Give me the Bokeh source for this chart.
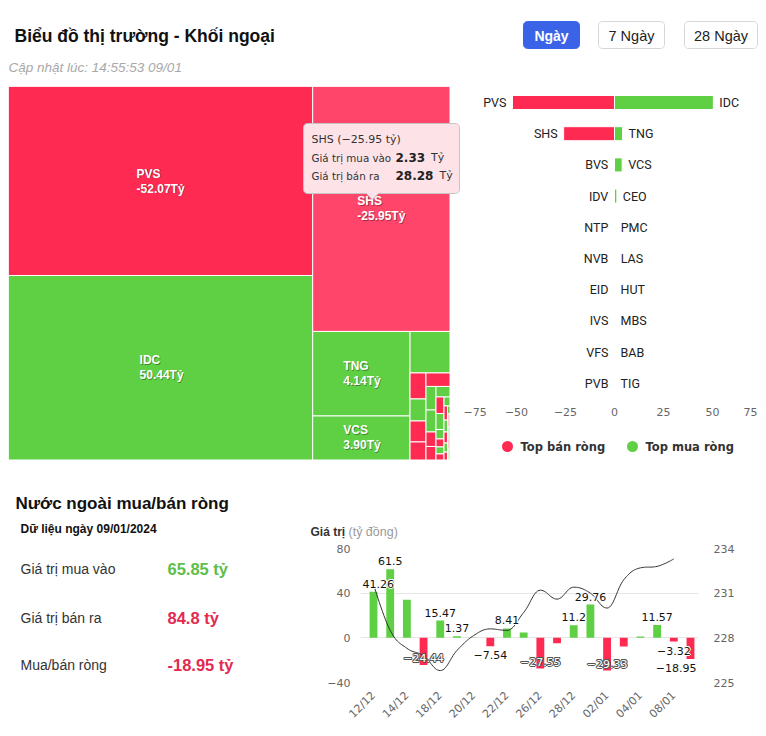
import math
from bokeh.plotting import figure
from bokeh.layouts import column, row
from bokeh.models import Range1d, LinearAxis, FixedTicker, Spacer
from bokeh.core.properties import value
from bokeh.embed import file_html
from bokeh.resources import INLINE

# ---------------------------------------------------------------- data
# treemap: net value (ty) of the labelled cells
tm_names = ["PVS", "IDC", "SHS", "TNG", "VCS"]
tm_net = [-52.07, 50.44, -25.95, 4.14, 3.90]
# traded value (buy + sell, ty) that sizes every cell (labelled ones first)
tm_size = [52.32, 51.07, 30.61, 7.49, 3.90,
           1.509,
           0.378, 0.320, 0.305, 0.262,
           0.295,
           0.214, 0.200, 0.132, 0.123,
           0.134,
           0.120, 0.116, 0.069, 0.058, 0.051, 0.044,
           0.049,
           0.045, 0.038, 0.035, 0.029, 0.025,
           0.018,
           0.018, 0.016, 0.014, 0.015,
           0.042]
# -1 = net sell, 1 = net buy
tm_side = [-1, 1, -1, 1, 1,
           1,
           -1, 1, -1, -1,
           -1,
           1, 1, -1, -1,
           1,
           -1, 1, 1, -1, 1, -1,
           1,
           -1, 1, -1, 1, -1,
           1,
           -1, 1, -1, 1,
           1]
# number of cells in each strip (strips alternate column / row)
tm_strips = [2, 1, 2, 1, 4, 1, 4, 1, 6, 1, 5, 1, 4, 1]
# hovered point (SHS) tooltip
tip_buy = 2.33
tip_sell = 28.28

# top net sell / net buy bars
sell_names = ["PVS", "SHS", "BVS", "IDV", "NTP", "NVB", "EID", "IVS", "VFS", "PVB"]
sell_values = [-52.07, -25.95, -0.12, -0.10, -0.06, -0.05, -0.03, -0.02, -0.01, -0.01]
buy_names = ["IDC", "TNG", "VCS", "CEO", "PMC", "LAS", "HUT", "MBS", "BAB", "TIG"]
buy_values = [50.44, 4.14, 3.90, 1.20, 0.10, 0.08, 0.05, 0.03, 0.02, 0.01]
bar_ticks = [-75, -50, -25, 0, 25, 50, 75]

# summary
buy_total = 65.85
sell_total = 84.8

# daily foreign net buy/sell and index
dates = ["12/12", "13/12", "14/12", "15/12", "18/12", "19/12", "20/12", "21/12", "22/12", "25/12",
         "26/12", "27/12", "28/12", "29/12", "02/01", "03/01", "04/01", "05/01", "08/01", "09/01"]
net_values = [41.26, 61.5, 34.0, -24.44, 15.47, 1.37, 0.3, -7.54, 8.41, 4.7,
              -27.55, -4.8, 11.2, 29.76, -29.33, -7.7, 1.2, 11.57, -3.32, -18.95]
label_shown = [True, True, False, True, True, True, False, True, True, False,
               True, False, True, True, True, False, False, True, True, True]
index_values = [231.6, 228.5, 227.3, 226.8, 225.8, 227.15, 228.15, 228.6, 228.5, 229.7,
                231.2, 230.6, 231.4, 231.0, 230.0, 231.9, 232.7, 232.8, 233.3, None]
left_ticks = [-40, 0, 40, 80]
right_ticks = [225, 228, 231, 234]

# ---------------------------------------------------------------- style
RED = "#FF2A52"
RED_HOVER = "#FF4569"
GREEN = "#5FCF44"
TXT_RED = "#E3294F"
TXT_GREEN = "#5DBE4A"


def minus(s):
    return s.replace("-", "\u2212")


def blank(w, h, xr, yr, **kw):
    p = figure(width=w, height=h, x_range=Range1d(*xr), y_range=Range1d(*yr),
               output_backend="svg", toolbar_location=None,
               x_axis_type=None, y_axis_type=None,
               outline_line_color=None, background_fill_color="white",
               border_fill_color="white", **kw)
    if not kw:
        p.min_border = 0
    return p


def txt(p, x, y, s, size, color="#333333", font="Liberation Sans", style="normal",
        align="left", baseline="middle", **kw):
    return p.text(x=[x], y=[y], text=[s], text_font=value(font),
                  text_font_size=f"{size}px", text_font_style=style, text_color=color,
                  text_align=align, text_baseline=baseline, **kw)


def rounded(x0, y0, x1, y1, r, arrow=None, n=6):
    xs, ys = [], []
    corners = [(x1 - r, y0 + r, -90, 0), (x1 - r, y1 - r, 0, 90),
               (x0 + r, y1 - r, 90, 180), (x0 + r, y0 + r, 180, 270)]
    for ci, (cx, cy, a0, a1) in enumerate(corners):
        for k in range(n + 1):
            a = math.radians(a0 + (a1 - a0) * k / n)
            xs.append(cx + r * math.cos(a))
            ys.append(cy + r * math.sin(a))
        if ci == 1 and arrow is not None:
            ax, ah = arrow
            xs += [ax + ah, ax, ax - ah]
            ys += [y1, y1 + ah, y1]
    return xs, ys


# ---------------------------------------------------------------- header
hdr = blank(750, 78, (0, 750), (78, 0))
txt(hdr, 6, 27, "Biểu đồ thị trường - Khối ngoại", 17.5, "#111111", style="bold")
txt(hdr, 0, 59, "Cập nhật lúc: 14:55:53 09/01", 13.5, "#a8a8a8", style="italic")
for label, bx0, bx1, active in [("Ngày", 515, 571, True), ("7 Ngày", 590, 656, False),
                                ("28 Ngày", 676, 749, False)]:
    xs, ys = rounded(bx0, 13, bx1, 40, 4)
    hdr.patch(xs, ys, fill_color="#3B63E8" if active else "white",
              line_color="#3B63E8" if active else "#d6d6d6", line_width=1)
    txt(hdr, (bx0 + bx1) / 2, 27, label, 14.5 if not active else 14,
        "white" if active else "#222222", style="bold" if active else "normal",
        align="center")

# ---------------------------------------------------------------- treemap
TM_W, TM_H = 441.5, 373.5
tm = blank(454, 382, (0, 454), (382, 0))
k = TM_W * TM_H / sum(tm_size)
x0, y0, w, h = 0.0, 0.0, TM_W, TM_H
cells = []
i = 0
direction = 0
for n in tm_strips:
    idx = list(range(i, i + n))
    i += n
    area = sum(tm_size[j] for j in idx) * k
    if direction == 0:
        sw = area / h
        cy = y0
        for j in idx:
            chh = tm_size[j] * k / sw
            cells.append((x0, x0 + sw, cy, cy + chh))
            cy += chh
        x0 += sw
        w -= sw
    else:
        sh = area / w
        cx = x0
        for j in idx:
            cw = tm_size[j] * k / sh
            cells.append((cx, cx + cw, y0, y0 + sh))
            cx += cw
        y0 += sh
        h -= sh
    direction = 1 - direction

colors = []
for j, s in enumerate(tm_side):
    if j == 2:
        colors.append(RED_HOVER)
    else:
        colors.append(RED if s < 0 else GREEN)
tm.quad(left=[c[0] for c in cells], right=[c[1] for c in cells],
        top=[c[2] for c in cells], bottom=[c[3] for c in cells],
        fill_color=colors, line_color="white", line_width=1)

for j, name in enumerate(tm_names):
    l, r, t, b = cells[j]
    cx, cy = (l + r) / 2, (t + b) / 2
    vtxt = f"{tm_net[j]:.2f}Tỷ"
    lx = cx - max(len(name), len(vtxt)) * 3.0
    for dx, dy, col, al in [(0.8, 0.8, "#000000", 0.35), (0, 0, "white", 1.0)]:
        txt(tm, lx + dx, cy - 7.5 + dy, name, 12, col, style="bold", text_alpha=al)
        txt(tm, lx + dx, cy + 7.5 + dy, vtxt, 12, col, style="bold", text_alpha=al)

# tooltip for the hovered SHS cell
l, r, t, b = cells[2]
ax = (l + r) / 2 - 9
xs, ys = rounded(295, 37, 451, 107, 4, arrow=(ax, 6))
tm.patch(xs, ys, fill_color="#FDE3E8", line_color="#c4c4c4", line_width=1)
txt(tm, 303, 53, f"{tm_names[2]} ({minus(f'{tm_net[2]:.2f}')} tỷ)", 11, "#333333", font="DejaVu Sans")
for yy, lab, val in [(71, "Giá trị mua vào", tip_buy), (89, "Giá trị bán ra", tip_sell)]:
    txt(tm, 303, yy, lab, 10.3, "#333333", font="DejaVu Sans")
    sval = f"{val:.2f}"
    txt(tm, 387, yy, sval, 12, "#222222", font="DejaVu Sans", style="bold")
    wv = sum(8.35 if c.isdigit() else 4.56 for c in sval)
    txt(tm, 387 + wv + 6, yy, "Tỷ", 11, "#333333", font="DejaVu Sans")

# ---------------------------------------------------------------- top sell / buy bars
BW, BH = 296, 382
ZERO_PX = 152.0
UNIT = 1.96
ROW0, ROWH = 16.0, 31.2
xl, xr = -ZERO_PX / UNIT, (BW - ZERO_PX) / UNIT
bar = blank(BW, BH, (xl, xr), ((BH - ROW0) / ROWH, -ROW0 / ROWH))
rows = list(range(len(sell_names)))
bar.hbar(y=rows, left=sell_values, right=0, height=0.45, fill_color=RED, line_color="white", line_width=1)
bar.hbar(y=rows, left=0, right=buy_values, height=0.45, fill_color=GREEN, line_color="white", line_width=1)
bar.text(x=sell_values, y=rows, text=sell_names, x_offset=-6, text_align="right",
         text_baseline="middle", text_font=value("Roboto"), text_font_size="12.5px",
         text_color="#222222")
bar.text(x=buy_values, y=rows, text=buy_names, x_offset=6, text_align="left",
         text_baseline="middle", text_font=value("Roboto"), text_font_size="12.5px",
         text_color="#222222")
tick_y = (411 - 86 - ROW0) / ROWH
tx, tt = [], []
for t in bar_ticks:
    s = minus(str(t))
    hw = (sum(9.2 if c == "\u2212" else 7.0 for c in s) / 2 + 1) / UNIT
    tx.append(min(max(t, xl + hw), xr - hw))
    tt.append(s)
bar.text(x=tx, y=[tick_y] * len(tx), text=tt, text_align="center", text_baseline="middle",
         text_font=value("DejaVu Sans"), text_font_size="11px", text_color="#666666")
leg_y = (446 - 86 - ROW0) / ROWH
leg_x = [(507 - 462 - ZERO_PX) / UNIT, (632 - 462 - ZERO_PX) / UNIT]
bar.scatter(x=leg_x, y=[leg_y, leg_y], size=11, fill_color=[RED, GREEN], line_color=None)
bar.text(x=leg_x, y=[leg_y, leg_y], text=["Top bán ròng", "Top mua ròng"], x_offset=13,
         text_align="left", text_baseline="middle", text_font=value("DejaVu Sans"),
         text_font_size="11.5px", text_font_style="bold", text_color="#333333")

# ---------------------------------------------------------------- bottom titles
info_top = blank(750, 72, (0, 750), (72, 0))
txt(info_top, 7, 35, "Nước ngoài mua/bán ròng", 17, "#111111", style="bold")
txt(info_top, 12, 60, "Dữ liệu ngày 09/01/2024", 12, "#111111", style="bold")
txt(info_top, 302, 63, "Giá trị", 12, "#333333", style="bold")
txt(info_top, 340, 63, "(tỷ đồng)", 12.5, "#9a9a9a")

# ---------------------------------------------------------------- summary
# same borders as the chart next to it, so both frames line up (frame = page y 548..682)
info = blank(292, 188, (0, 292), (134, 0), min_border_left=0, min_border_right=0,
             min_border_top=8, min_border_bottom=46)
net_total = round(buy_total - sell_total, 2)
for yy, lab, val, col in [(20, "Giá trị mua vào", buy_total, TXT_GREEN),
                          (69, "Giá trị bán ra", sell_total, TXT_RED),
                          (116, "Mua/bán ròng", net_total, TXT_RED if net_total < 0 else TXT_GREEN)]:
    txt(info, 12, yy, lab, 14, "#333333")
    txt(info, 159, yy, f"{val:g} tỷ", 16.5, col, style="bold")

# ---------------------------------------------------------------- daily chart
XL, XR = -0.78, 19.48
ch = figure(width=458, height=188, x_range=Range1d(XL, XR), y_range=Range1d(-40, 80),
            output_backend="svg", toolbar_location=None,
            min_border_left=60, min_border_right=60, min_border_top=8, min_border_bottom=46,
            outline_line_color=None, background_fill_color="white", border_fill_color="white")
ch.extra_y_ranges = {"idx": Range1d(225, 234)}
ch.add_layout(LinearAxis(y_range_name="idx", ticker=FixedTicker(ticks=right_ticks)), "right")
ch.yaxis[0].ticker = FixedTicker(ticks=left_ticks)
ch.yaxis[0].major_label_overrides = {t: minus(str(t)) for t in left_ticks}
ch.xaxis.ticker = FixedTicker(ticks=list(range(0, len(dates), 2)))
ch.xaxis.major_label_overrides = {i: dates[i] for i in range(0, len(dates), 2)}
ch.xaxis.major_label_orientation = math.pi / 4
for a in ch.axis:
    a.axis_line_color = None
    a.major_tick_line_color = None
    a.minor_tick_line_color = None
    a.major_tick_out = 0
    a.major_tick_in = 0
    a.major_label_text_font = "DejaVu Sans"
    a.major_label_text_font_size = "11px"
    a.major_label_text_color = "#666666"
ch.yaxis[0].major_label_standoff = 10
ch.yaxis[1].major_label_standoff = 15
ch.xaxis.major_label_standoff = 11
ch.xgrid.visible = False
ch.ygrid.ticker = FixedTicker(ticks=left_ticks)
ch.ygrid.grid_line_color = "#e6e6e6"

xi = list(range(len(dates)))
ch.vbar(x=xi, top=net_values, bottom=0, width=0.47,
        fill_color=[GREEN if v >= 0 else RED for v in net_values], line_color=None)


def spline(xs, ys, steps=14):
    pts = [(x, y) for x, y in zip(xs, ys) if y is not None]
    n = len(pts)
    lc, rc = [None] * n, [None] * n
    sm, den = 1.5, 2.5
    for i, (x, y) in enumerate(pts):
        if 0 < i < n - 1:
            (px_, py_), (nx_, ny_) = pts[i - 1], pts[i + 1]
            lcx, lcy = (sm * x + px_) / den, (sm * y + py_) / den
            rcx, rcy = (sm * x + nx_) / den, (sm * y + ny_) / den
            corr = ((rcy - lcy) * (rcx - x)) / (rcx - lcx) + y - rcy
            lcy += corr
            rcy += corr
            if lcy > py_ and lcy > y:
                lcy = max(py_, y); rcy = 2 * y - lcy
            elif lcy < py_ and lcy < y:
                lcy = min(py_, y); rcy = 2 * y - lcy
            if rcy > ny_ and rcy > y:
                rcy = max(ny_, y); lcy = 2 * y - rcy
            elif rcy < ny_ and rcy < y:
                rcy = min(ny_, y); lcy = 2 * y - rcy
            lc[i], rc[i] = (lcx, lcy), (rcx, rcy)
        else:
            lc[i], rc[i] = (x, y), (x, y)
    ox, oy = [pts[0][0]], [pts[0][1]]
    for i in range(1, n):
        p0, p1, p2, p3 = pts[i - 1], rc[i - 1], lc[i], pts[i]
        for s in range(1, steps + 1):
            t = s / steps
            u = 1 - t
            ox.append(u ** 3 * p0[0] + 3 * u * u * t * p1[0] + 3 * u * t * t * p2[0] + t ** 3 * p3[0])
            oy.append(u ** 3 * p0[1] + 3 * u * u * t * p1[1] + 3 * u * t * t * p2[1] + t ** 3 * p3[1])
    return ox, oy


sx, sy = spline(xi, index_values)
ch.line(sx, sy, y_range_name="idx", line_color="#333333", line_width=1)

# data labels (with a halo like the original's text outline)
PXU = 338 / (XR - XL)          # px per category
PXV = 134 / 120.0              # px per ty
groups = {"pos": ([], [], []), "neg_out": ([], [], []), "neg_in": ([], [], [])}
for i, v in enumerate(net_values):
    if not label_shown[i]:
        continue
    s = minus(f"{v:g}")
    hw = (sum(9.2 if c == "\u2212" else (3.5 if c == "." else 7.0) for c in s) / 2 + 2) / PXU
    xx = min(max(i, XL + hw), XR - hw)
    if v >= 0:
        g = "pos"
    elif (v + 40) * PXV < 21:
        g = "neg_in"
    else:
        g = "neg_out"
    groups[g][0].append(xx)
    groups[g][1].append(v)
    groups[g][2].append(s)
halo = [(1, 0), (-1, 0), (0, 1), (0, -1), (0.7, 0.7), (-0.7, 0.7), (0.7, -0.7), (-0.7, -0.7)]
for g, (gx, gy, gt) in groups.items():
    base = {"pos": "bottom", "neg_out": "top", "neg_in": "bottom"}[g]
    off = {"pos": -4, "neg_out": 5, "neg_in": -3}[g]
    fg, bg = ("white", "#555555") if g == "neg_in" else ("#111111", "white")
    for dx, dy in halo + [(0, 0)]:
        ch.text(x=gx, y=gy, text=gt, text_align="center", text_baseline=base,
                x_offset=dx, y_offset=off + dy,
                text_font=value("DejaVu Sans"), text_font_size="11px",
                text_color=fg if (dx, dy) == (0, 0) else bg)

content = column(hdr, row(tm, bar), info_top, row(info, ch))
page = column(Spacer(height=8, width=758), row(Spacer(width=8, height=720), content))
open("out.html", "w").write(file_html(page, INLINE))
